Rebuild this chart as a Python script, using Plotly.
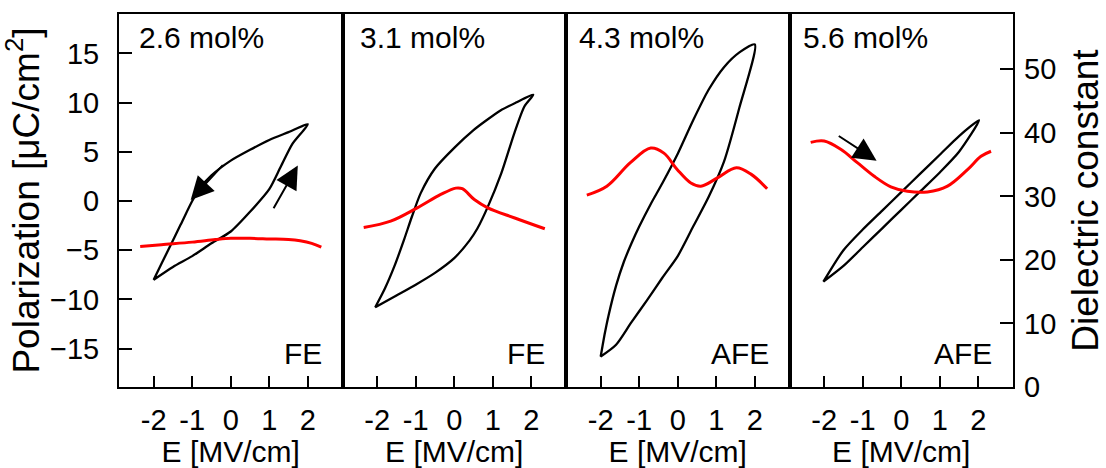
import plotly.graph_objects as go

# ---- P-E hysteresis loops (E in MV/cm, P in uC/cm^2) ----
# each loop: descending branch (E: +Emax -> -Emax) followed by ascending branch
E_26_down = [2.0, 1.5, 1.0, 0.5, 0.0, -0.5, -0.8, -1.0, -1.3, -1.6, -2.0]
P_26_down = [7.8, 7.0, 6.2, 5.2, 4.1, 2.6, 1.3, 0.0, -2.4, -4.8, -8.0]
E_26_up = [-2.0, -1.5, -1.0, -0.5, 0.0, 0.5, 1.0, 1.3, 1.6, 2.0]
P_26_up = [-8.0, -6.7, -5.6, -4.3, -3.1, -1.1, 1.2, 3.5, 5.8, 7.8]

E_31_down = [2.05, 1.6, 1.2, 0.8, 0.5, 0.0, -0.5, -0.87, -1.1, -1.3, -1.55, -1.8, -2.05]
P_31_down = [10.8, 10.0, 9.2, 8.1, 7.2, 5.4, 3.3, 0.8, -1.6, -3.9, -6.6, -8.9, -10.8]
E_31_up = [-2.05, -1.5, -1.0, -0.5, 0.0, 0.4, 0.6, 0.87, 1.22, 1.56, 1.82, 2.05]
P_31_up = [-10.8, -9.6, -8.5, -7.3, -5.8, -4.0, -2.8, -0.6, 2.8, 6.9, 9.6, 10.8]

E_43_down = [2.0, 1.6, 1.2, 0.8, 0.4, 0.0, -0.4, -0.7, -1.0, -1.2, -1.4, -1.6, -1.8, -1.9, -2.0]
P_43_down = [15.9, 15.1, 13.6, 11.3, 8.2, 4.8, 1.8, -0.3, -2.6, -4.3, -6.2, -8.6, -11.7, -13.6, -15.8]
E_43_up = [-2.0, -1.6, -1.2, -0.8, -0.4, 0.0, 0.4, 0.8, 1.2, 1.6, 2.0]
P_43_up = [-15.8, -14.6, -12.3, -10.1, -7.8, -5.6, -2.6, 0.4, 4.0, 9.5, 15.9]

E_56_down = [2.02, 1.5, 1.0, 0.5, 0.0, -0.5, -1.0, -1.5, -2.02]
P_56_down = [8.2, 6.6, 4.7, 2.8, 0.9, -1.0, -2.9, -5.0, -8.2]
E_56_up = [-2.02, -1.5, -1.0, -0.5, 0.0, 0.5, 1.0, 1.5, 2.02]
P_56_up = [-8.2, -6.6, -4.7, -2.8, -0.9, 1.0, 2.9, 5.0, 8.2]

# ---- dielectric constant vs field ----
E_eps_26 = [-2.35, -1.8, -1.0, -0.4, 0.0, 0.5, 1.0, 1.5, 1.8, 2.1, 2.35]
eps_26 = [22.1, 22.4, 22.8, 23.2, 23.4, 23.4, 23.3, 23.2, 23.0, 22.6, 22.0]

E_eps_31 = [-2.35, -1.65, -0.96, -0.35, 0.04, 0.21, 0.52, 0.87, 1.57, 2.35]
eps_31 = [25.1, 26.1, 28.2, 30.3, 31.3, 31.2, 29.5, 28.2, 26.6, 24.9]

E_eps_43 = [-2.36, -1.84, -1.23, -0.70, -0.36, -0.01, 0.34, 0.60, 1.03, 1.52, 1.9, 2.32]
eps_43 = [30.2, 31.6, 35.3, 37.6, 36.8, 34.2, 32.1, 31.6, 32.9, 34.5, 33.5, 31.2]

E_eps_56 = [-2.35, -2.0, -1.57, -1.14, -0.71, -0.27, 0.16, 0.68, 1.2, 1.72, 2.07, 2.33]
eps_56 = [38.5, 38.7, 37.4, 35.3, 33.2, 31.5, 30.8, 30.7, 31.6, 34.2, 36.3, 37.1]

compositions = ["2.6 mol%", "3.1 mol%", "4.3 mol%", "5.6 mol%"]
phases = ["FE", "FE", "AFE", "AFE"]

x_ticks = [-2, -1, 0, 1, 2]
p_ticks = [-15, -10, -5, 0, 5, 10, 15]
eps_ticks = [0, 10, 20, 30, 40, 50]

FONT = "Arial, Liberation Sans, sans-serif"
BLACK = "#000000"
RED = "#ff0000"

loops = [
    (E_26_down + E_26_up, P_26_down + P_26_up),
    (E_31_down + E_31_up, P_31_down + P_31_up),
    (E_43_down + E_43_up, P_43_down + P_43_up),
    (E_56_down + E_56_up, P_56_down + P_56_up),
]
eps_curves = [(E_eps_26, eps_26), (E_eps_31, eps_31), (E_eps_43, eps_43), (E_eps_56, eps_56)]

fig = go.Figure()

for i in range(4):
    n = i + 1
    xa = "x" if n == 1 else f"x{n}"
    ya_p = "y" if n == 1 else f"y{n}"
    ya_e = f"y{n + 4}"
    ex, ey = eps_curves[i]
    fig.add_trace(go.Scatter(x=ex, y=ey, xaxis=xa, yaxis=ya_e, mode="lines",
                             line=dict(color=RED, width=3, shape="spline"),
                             showlegend=False, hoverinfo="skip"))
    lx, ly = loops[i]
    fig.add_trace(go.Scatter(x=lx, y=ly, xaxis=xa, yaxis=ya_p, mode="lines",
                             line=dict(color=BLACK, width=2.3, shape="spline", smoothing=0.7),
                             showlegend=False, hoverinfo="skip"))

P_RANGE = [-18.9, 19.0]
EPS_RANGE = [0, 58.7]
X_RANGE = [-2.9, 2.9]
TICK_SIZE = 29

layout = dict(
    width=1106, height=468,
    margin=dict(l=119, r=93, t=14, b=81, autoexpand=False),
    paper_bgcolor="white", plot_bgcolor="white",
    font=dict(family=FONT, color=BLACK, size=TICK_SIZE),
    showlegend=False,
)

for i in range(4):
    n = i + 1
    key = "xaxis" if n == 1 else f"xaxis{n}"
    layout[key] = dict(
        domain=[i * 0.25, (i + 1) * 0.25], range=X_RANGE,
        anchor="y" if n == 1 else f"y{n}", automargin=False,
        tickvals=x_ticks, ticktext=[str(v) for v in x_ticks],
        ticks="inside", ticklen=11, tickwidth=2, tickcolor=BLACK,
        showline=True, linecolor=BLACK, linewidth=2, mirror=True,
        showgrid=False, zeroline=False,
        tickfont=dict(size=TICK_SIZE, family=FONT), ticklabelstandoff=6,
        title=dict(text="E [MV/cm]", font=dict(size=30, family=FONT), standoff=2),
    )
    ykey = "yaxis" if n == 1 else f"yaxis{n}"
    ycfg = dict(
        range=P_RANGE, anchor="x" if n == 1 else f"x{n}", automargin=False,
        showline=True, linecolor=BLACK, linewidth=2, mirror=True,
        showgrid=False, zeroline=False,
    )
    if n == 1:
        ycfg.update(
            tickvals=p_ticks, ticks="inside", ticklen=13, tickwidth=2, tickcolor=BLACK,
            tickfont=dict(size=TICK_SIZE, family=FONT), ticklabelstandoff=12,
            title=dict(text="Polarization [μC/cm<sup>2</sup>]",
                       font=dict(size=37, family=FONT), standoff=6),
        )
    else:
        ycfg.update(matches="y", showticklabels=False, ticks="")
    layout[ykey] = ycfg

    ekey = f"yaxis{n + 4}"
    ecfg = dict(
        range=EPS_RANGE, anchor="x" if n == 1 else f"x{n}", automargin=False,
        overlaying="y" if n == 1 else f"y{n}", side="right",
        showgrid=False, zeroline=False, showline=False,
    )
    if n == 4:
        ecfg.update(
            tickvals=eps_ticks, ticks="inside", ticklen=13, tickwidth=2, tickcolor=BLACK,
            tickfont=dict(size=TICK_SIZE, family=FONT), ticklabelstandoff=10,
            title=dict(text="Dielectric constant", font=dict(size=37, family=FONT), standoff=16),
        )
    else:
        ecfg.update(showticklabels=False, ticks="")
    layout[ekey] = ecfg

fig.update_layout(**layout)

PANEL_PX = 223.5
PLOT_H = 373.0
label_left_px = [18, 15, 11, 11]
for i in range(4):
    n = i + 1
    xa = "x" if n == 1 else f"x{n}"
    ya = "y" if n == 1 else f"y{n}"
    fig.add_annotation(text=compositions[i], xref=f"{xa} domain", yref=f"{ya} domain",
                       x=label_left_px[i] / PANEL_PX, y=1 - 23 / PLOT_H,
                       xanchor="left", yanchor="middle",
                       showarrow=False, font=dict(size=30, family=FONT, color=BLACK))
    fig.add_annotation(text=phases[i], xref=f"{xa} domain", yref=f"{ya} domain",
                       x=1 - 19 / PANEL_PX, y=1 - 339 / PLOT_H,
                       xanchor="right", yanchor="middle",
                       showarrow=False, font=dict(size=30, family=FONT, color=BLACK))

# sweep-direction arrows (head at x/y, tail at ax/ay)
arrows = [
    ("x", "y", -1.04, 0.1, -0.17, 3.8),
    ("x", "y", 1.74, 3.6, 1.09, -0.9),
    ("x4", "y4", -0.64, 4.1, -1.66, 6.7),
]
for xa, ya, hx, hy, tx, ty in arrows:
    fig.add_annotation(x=hx, y=hy, ax=tx, ay=ty, xref=xa, yref=ya, axref=xa, ayref=ya,
                       showarrow=True, arrowhead=2, arrowsize=2.3, arrowwidth=2,
                       arrowcolor=BLACK, text="")

fig.write_html("out.html")
